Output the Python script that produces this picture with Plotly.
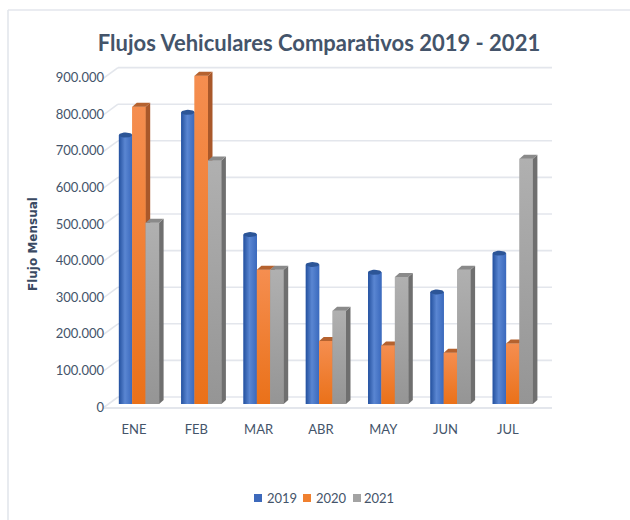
import math
import plotly.graph_objects as go

MONTHS = ["ENE", "FEB", "MAR", "ABR", "MAY", "JUN", "JUL"]
SERIES = ["2019", "2020", "2021"]
V2019 = [735000, 797000, 463000, 381000, 360000, 306000, 412000]
V2020 = [812000, 897000, 367000, 172000, 160000, 140000, 165000]
V2021 = [495000, 665000, 367000, 255000, 347000, 367000, 670000]
YTICKS = [0, 100000, 200000, 300000, 400000, 500000, 600000, 700000, 800000, 900000]
VALUES = [V2019, V2020, V2021]

W, H = 630, 520
PX_X = 62.3
PX_Y = 36.6 / 100000
L, R, B0, BOT, TOP = 103, 552, 404, 412, 60
LABEL_DROP = 6  # the axis labels sit on the floor plane, just below the bar fronts
xr = [(L - 139) / PX_X, (R - 139) / PX_X]
yr = [(B0 - BOT) / PX_Y, (B0 - TOP) / PX_Y]
yr_base = [(B0 + LABEL_DROP - BOT) / PX_Y, (B0 + LABEL_DROP - TOP) / PX_Y]
BW = 13.4 / PX_X
DX, DY = 4.5 / PX_X, 4 / PX_Y
WX, WY = 15 / PX_X, 11 / PX_Y  # wall depth
WY0 = (B0 + LABEL_DROP - 397) / PX_Y

INK = "#44546a"
GRID = "#e3e6ec"
BASE = ["#3d69bb", "#f0802f", "#a3a3a3"]
SIDE = ["#2c4f8f", "#a9582a", "#6f6f6f"]
CAP = ["#2c5597", "#b5622f", "#8a8a8a"]
GRAD = [
    ("horizontal", [[0, "#24519f"], [0.45, "#5a86d2"], [1, "#3a69bd"]]),
    ("vertical", [[0, "#ea7119"], [1, "#f58e50"]]),
    ("vertical", [[0, "#959595"], [1, "#b0b0b0"]]),
]
LEGEND_SQ = [254, 303, 353]
LEGEND_TXT = [266, 315, 363]

fig = go.Figure()

# back wall and floor, on the base axes
gx, gy, dx_, dy_ = [], [], [], []
for t in YTICKS:
    gx += [xr[0] + WX, xr[1], None]
    gy += [t + WY0, t + WY0, None]
    dx_ += [xr[0], xr[0] + WX, None]
    dy_ += [t + WY0 - WY, t + WY0, None]
fig.add_trace(go.Scatter(x=gx, y=gy, mode="lines", line=dict(color=GRID, width=1.6),
                         showlegend=False, hoverinfo="skip"))
fig.add_trace(go.Scatter(x=dx_, y=dy_, mode="lines", line=dict(color=GRID, width=1.6),
                         showlegend=False, hoverinfo="skip"))
fig.add_trace(go.Scatter(x=[xr[0], xr[1]], y=[WY0 - WY, WY0 - WY], mode="lines",
                         line=dict(color=GRID, width=2), showlegend=False, hoverinfo="skip"))

for k, (name, vals) in enumerate(zip(SERIES, VALUES)):
    sx, sy = f"x{k + 2}", f"y{k + 2}"
    xs = [i + (k - 1) * BW for i in range(len(MONTHS))]
    fig.add_trace(go.Bar(x=xs, y=vals, width=BW, name=name, xaxis=sx, yaxis=sy, showlegend=False,
                         marker=dict(color=BASE[k], line=dict(width=0))))
    for x, v in zip(xs, vals):
        a, b = x - BW / 2, x + BW / 2
        kind, scale = GRAD[k]
        fig.add_trace(go.Scatter(x=[a, b, b, a, a], y=[0, 0, v, v, 0], mode="lines",
                                 line=dict(width=0), fill="toself",
                                 fillgradient=dict(type=kind, colorscale=scale),
                                 xaxis=sx, yaxis=sy, showlegend=False, hoverinfo="skip"))
        if k == 0:
            # the 2019 columns are cylinders: an elliptical top and no side face
            steps = range(25)
            ex = [x + BW / 2 * math.cos(2 * math.pi * s / 24) for s in steps]
            ey = [v + 2.5 / PX_Y * math.sin(2 * math.pi * s / 24) for s in steps]
            fig.add_trace(go.Scatter(x=ex, y=ey, mode="lines", line=dict(width=0), fill="toself",
                                     fillcolor=CAP[k], xaxis=sx, yaxis=sy,
                                     showlegend=False, hoverinfo="skip"))
            continue
        fig.add_trace(go.Scatter(x=[b, b + DX, b + DX, b, b], y=[0, DY, v + DY, v, 0], mode="lines",
                                 line=dict(width=0), fill="toself", fillcolor=SIDE[k],
                                 xaxis=sx, yaxis=sy, showlegend=False, hoverinfo="skip"))
        fig.add_trace(go.Scatter(x=[a, a + DX, b + DX, b, a], y=[v, v + DY, v + DY, v, v], mode="lines",
                                 line=dict(width=0), fill="toself", fillcolor=CAP[k],
                                 xaxis=sx, yaxis=sy, showlegend=False, hoverinfo="skip"))

dom_x = [L / W, R / W]
dom_y = [1 - BOT / H, 1 - TOP / H]
axis_common = dict(domain=dom_x, range=xr, showgrid=False, zeroline=False, showline=False, automargin=False)
yaxis_common = dict(domain=dom_y, showgrid=False, zeroline=False, showline=False, automargin=False)

annotations = [
    dict(text="<b>Flujo Mensual</b>", xref="paper", yref="paper", x=33 / W, y=1 - 244 / H,
         xanchor="center", yanchor="middle", textangle=-90, showarrow=False,
         font=dict(family="DejaVu Sans", size=12, color="#3a4a63")),
]
shapes = [
    dict(type="line", xref="paper", yref="paper", x0=8 / W, x1=1, y0=1 - 10 / H, y1=1 - 10 / H,
         line=dict(color=GRID, width=1.6)),
    dict(type="line", xref="paper", yref="paper", x0=8 / W, x1=8 / W, y0=0, y1=1 - 10 / H,
         line=dict(color=GRID, width=1.6)),
]
for k, name in enumerate(SERIES):
    shapes.append(dict(type="rect", xref="paper", yref="paper", x0=LEGEND_SQ[k] / W, x1=(LEGEND_SQ[k] + 8) / W,
                       y0=1 - 502 / H, y1=1 - 494 / H, fillcolor=BASE[k], line=dict(width=0)))
    annotations.append(dict(text=name, xref="paper", yref="paper", x=LEGEND_TXT[k] / W, y=1 - 498 / H,
                            xanchor="left", yanchor="middle", showarrow=False, xshift=-1,
                            font=dict(size=13, color=INK)))

layout = dict(
    width=W, height=H, autosize=False,
    margin=dict(l=0, r=0, t=0, b=0, autoexpand=False),
    paper_bgcolor="white", plot_bgcolor="rgba(0,0,0,0)",
    separators=",.",
    font=dict(family="Lato", color=INK, size=13),
    barmode="overlay",
    showlegend=False,
    title=dict(text="<b>Flujos Vehiculares Comparativos 2019 - 2021</b>", x=319 / W, xanchor="center",
               y=1 - 43 / H, yanchor="middle", font=dict(family="Lato", size=22, color=INK)),
    xaxis=dict(**axis_common, tickmode="array", tickvals=list(range(len(MONTHS))), ticktext=MONTHS,
               ticks="", ticklabelshift=-5, ticklabelstandoff=8, tickfont=dict(size=13, color=INK)),
    yaxis=dict(**yaxis_common, range=yr_base, tickmode="array", tickvals=YTICKS, tickformat=",d", ticks="",
               ticklabelshift=-3, ticklabelstandoff=-2, tickfont=dict(size=13, color=INK)),
    annotations=annotations,
    shapes=shapes,
)
for k in (2, 3, 4):
    layout[f"xaxis{k}"] = dict(**axis_common, overlaying="x", showticklabels=False)
    layout[f"yaxis{k}"] = dict(**yaxis_common, range=yr, overlaying="y", showticklabels=False)
fig.update_layout(**layout)
fig.write_html("out.html",
               post_script="document.body.style.margin='0';document.body.style.overflow='hidden';"
                           "var s=document.createElement('style');s.textContent='.modebar-container{display:none!important}';"
                           "document.head.appendChild(s);")
